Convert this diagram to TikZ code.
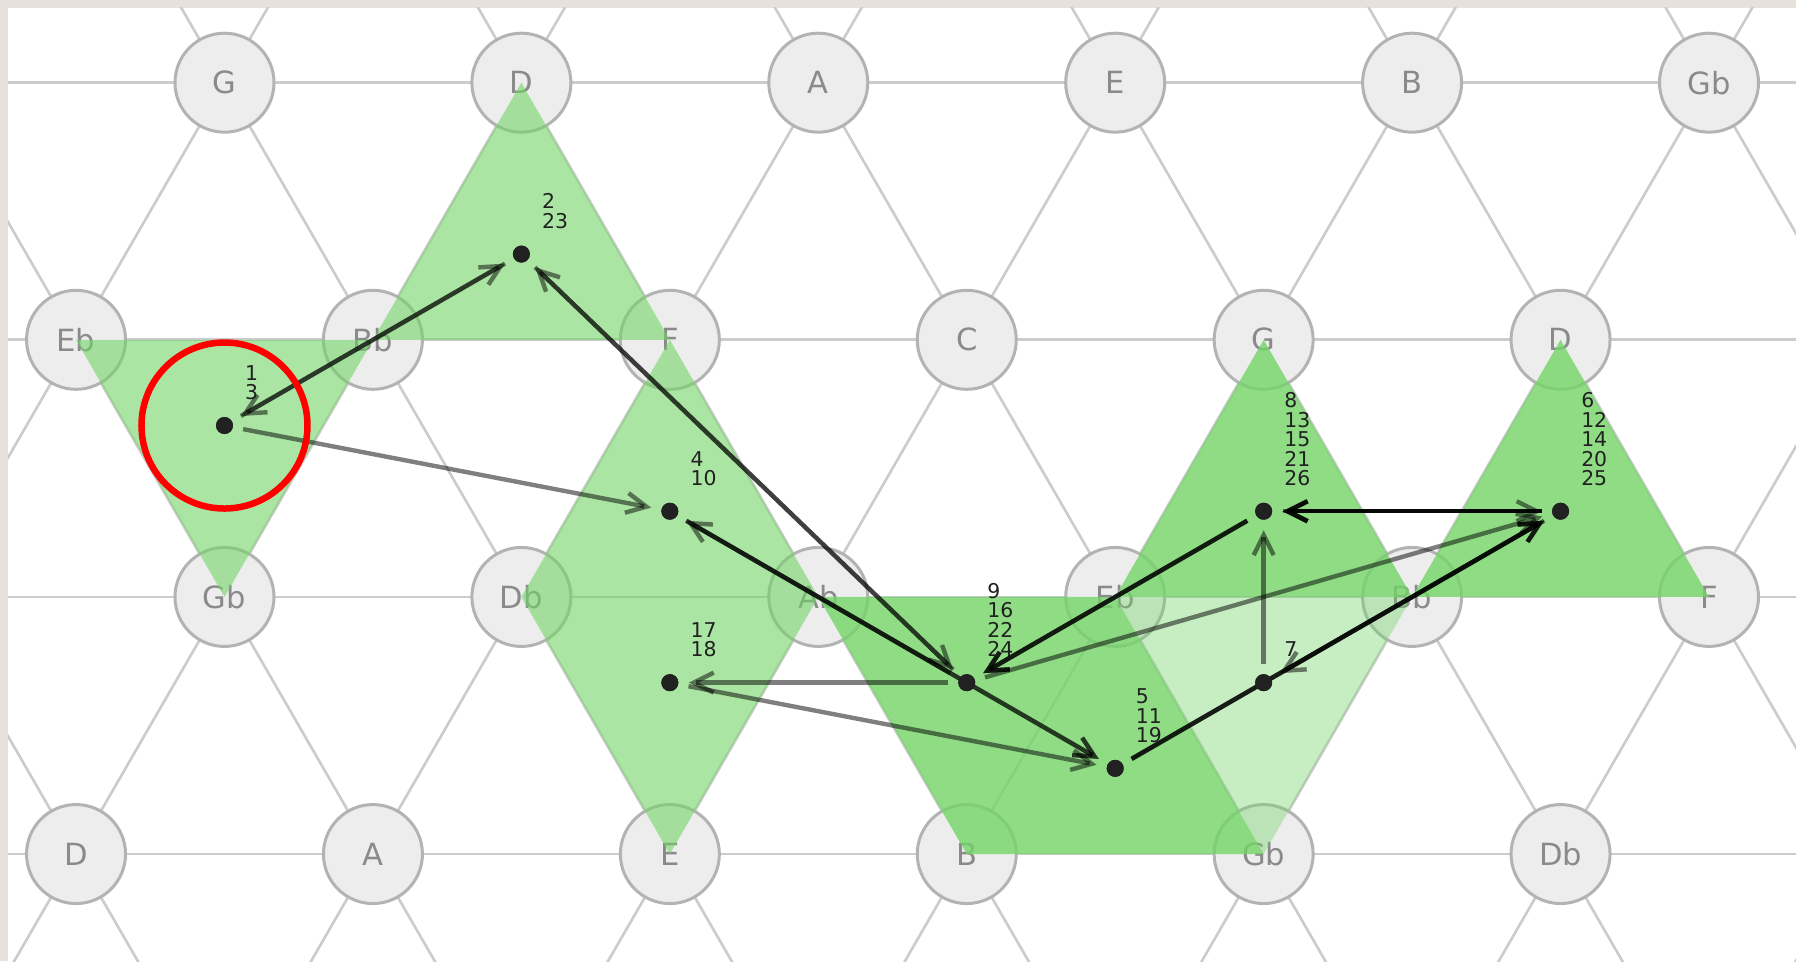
\documentclass[tikz,border=0pt]{standalone}
\usepackage{fontspec}
\setmainfont{DejaVu Sans}
\usetikzlibrary{arrows.meta}

\definecolor{frame}{HTML}{E6E2DB}
\definecolor{gridline}{HTML}{CCCCCC}
\definecolor{notefill}{HTML}{EDEDED}
\definecolor{noteline}{HTML}{B3B3B3}
\definecolor{notetext}{HTML}{8A8A8A}
\definecolor{chord}{HTML}{73D467}

\tikzset{
  note/.style={circle, fill=notefill, draw=noteline, line width=0.85pt, minimum size=0.99cm,
    inner sep=0pt, text=notetext, font=\fontsize{8.7pt}{10pt}\selectfont},
  dot/.style={circle, fill=black!87, inner sep=0pt, minimum size=0.17cm, outer sep=0.105cm},
  visits/.style={anchor=south west, inner sep=0pt, align=left, text depth=0pt,
    xshift=0.2cm, yshift=0.25cm, text=black!87, font=\fontsize{5.8pt}{5.55pt}\selectfont},
  move/.style={draw=black, draw opacity=0.5, line width=1.25pt,
    -{Straight Barb[length=2mm, width=2mm]}},
  once/.style={fill=chord, fill opacity=0.4},
  twice/.style={fill=chord, fill opacity=0.6},
  often/.style={fill=chord, fill opacity=0.8},
}

\begin{document}
\begin{tikzpicture}[x=2.969cm, y=2.5712cm]

\useasboundingbox (-0.2561,-0.4162) rectangle (5.7930,3.3217);
\fill[frame] (-0.2561,-0.4162) rectangle (5.7930,3.3217);
\fill[white] (-0.2292,-0.4162) rectangle (5.7930,3.2905);

%% grid lines
\begin{scope}[draw=gridline, line width=0.75pt]
\clip (-0.2292,-0.4162) rectangle (5.7930,3.2905);
\draw (-1,0) -- (7,0);
\draw (-1,1) -- (7,1);
\draw (-1,2) -- (7,2);
\draw (-1,3) -- (7,3);
\draw (-2.25,-0.5) -- (-0.25,3.5);
\draw (-1.25,-0.5) -- (0.75,3.5);
\draw (-0.25,-0.5) -- (1.75,3.5);
\draw (0.75,-0.5) -- (2.75,3.5);
\draw (1.75,-0.5) -- (3.75,3.5);
\draw (2.75,-0.5) -- (4.75,3.5);
\draw (3.75,-0.5) -- (5.75,3.5);
\draw (4.75,-0.5) -- (6.75,3.5);
\draw (5.75,-0.5) -- (7.75,3.5);
\draw (0.25,-0.5) -- (-1.75,3.5);
\draw (1.25,-0.5) -- (-0.75,3.5);
\draw (2.25,-0.5) -- (0.25,3.5);
\draw (3.25,-0.5) -- (1.25,3.5);
\draw (4.25,-0.5) -- (2.25,3.5);
\draw (5.25,-0.5) -- (3.25,3.5);
\draw (6.25,-0.5) -- (4.25,3.5);
\draw (7.25,-0.5) -- (5.25,3.5);
\draw (8.25,-0.5) -- (6.25,3.5);
\end{scope}

%% notes
\node[note] (G1)  at (0.5,3) {G};
\node[note] (D1)  at (1.5,3) {D};
\node[note] (A1)  at (2.5,3) {A};
\node[note] (E1)  at (3.5,3) {E};
\node[note] (B1)  at (4.5,3) {B};
\node[note] (Gb1) at (5.5,3) {Gb};
\node[note] (Eb2) at (0,2)   {Eb};
\node[note] (Bb2) at (1,2)   {Bb};
\node[note] (F2)  at (2,2)   {F};
\node[note] (C2)  at (3,2)   {C};
\node[note] (G2)  at (4,2)   {G};
\node[note] (D2)  at (5,2)   {D};
\node[note] (Gb3) at (0.5,1) {Gb};
\node[note] (Db3) at (1.5,1) {Db};
\node[note] (Ab3) at (2.5,1) {Ab};
\node[note] (Eb3) at (3.5,1) {Eb};
\node[note] (Bb3) at (4.5,1) {Bb};
\node[note] (F3)  at (5.5,1) {F};
\node[note] (D4)  at (0,0)   {D};
\node[note] (A4)  at (1,0)   {A};
\node[note] (E4)  at (2,0)   {E};
\node[note] (B4)  at (3,0)   {B};
\node[note] (Gb4) at (4,0)   {Gb};
\node[note] (Db4) at (5,0)   {Db};

%% chords
\fill[twice] (Eb2.center) -- (Bb2.center) -- (Gb3.center) -- cycle;  %% 1 3
\fill[twice] (D1.center) -- (Bb2.center) -- (F2.center) -- cycle;    %% 2 23
\fill[twice] (F2.center) -- (Db3.center) -- (Ab3.center) -- cycle;   %% 4 10
\fill[twice] (Db3.center) -- (Ab3.center) -- (E4.center) -- cycle;   %% 17 18
\fill[often] (Ab3.center) -- (Eb3.center) -- (B4.center) -- cycle;   %% 9 16 22 24
\fill[often] (Eb3.center) -- (B4.center) -- (Gb4.center) -- cycle;   %% 5 11 19
\fill[once]  (Eb3.center) -- (Bb3.center) -- (Gb4.center) -- cycle;  %% 7
\fill[often] (G2.center) -- (Eb3.center) -- (Bb3.center) -- cycle;   %% 8 13 15 21 26
\fill[often] (D2.center) -- (Bb3.center) -- (F3.center) -- cycle;    %% 6 12 14 20 25

%% chord centres
\node[dot] (c1) at (0.5,5/3) {};
\node[dot] (c2) at (1.5,7/3) {};
\node[dot] (c3) at (2,4/3)   {};
\node[dot] (c4) at (2,2/3)   {};
\node[dot] (c5) at (3,2/3)   {};
\node[dot] (c6) at (3.5,1/3) {};
\node[dot] (c7) at (4,2/3)   {};
\node[dot] (c8) at (4,4/3)   {};
\node[dot] (c9) at (5,4/3)   {};

%% moves
\draw[move] (c1) -- (c2);  %% 1-2
\draw[move] (c2) -- (c1);  %% 2-3
\draw[move] (c1) -- (c3);  %% 3-4
\draw[move] (c3) -- (c6);  %% 4-5
\draw[move] (c6) -- (c9);  %% 5-6
\draw[move] (c9) -- (c7);  %% 6-7
\draw[move] (c7) -- (c8);  %% 7-8
\draw[move] (c8) -- (c5);  %% 8-9
\draw[move] (c5) -- (c3);  %% 9-10
\draw[move] (c3) -- (c6);  %% 10-11
\draw[move] (c6) -- (c9);  %% 11-12
\draw[move] (c9) -- (c8);  %% 12-13
\draw[move] (c8) -- (c9);  %% 13-14
\draw[move] (c9) -- (c8);  %% 14-15
\draw[move] (c8) -- (c5);  %% 15-16
\draw[move] (c5) -- (c4);  %% 16-17
\draw[move] (c4) -- (c6);  %% 18-19
\draw[move] (c6) -- (c9);  %% 19-20
\draw[move] (c9) -- (c8);  %% 20-21
\draw[move] (c8) -- (c5);  %% 21-22
\draw[move] (c5) -- (c2);  %% 22-23
\draw[move] (c2) -- (c5);  %% 23-24
\draw[move] (c5) -- (c9);  %% 24-25
\draw[move] (c9) -- (c8);  %% 25-26

%% redraw centres on top
\node[dot] at (c1) {};
\node[dot] at (c2) {};
\node[dot] at (c3) {};
\node[dot] at (c4) {};
\node[dot] at (c5) {};
\node[dot] at (c6) {};
\node[dot] at (c7) {};
\node[dot] at (c8) {};
\node[dot] at (c9) {};

%% visit numbers
\node[visits] (v1) at (c1) {1\\3};
\node[visits] (v2) at (c2) {2\\23};
\node[visits] (v3) at (c3) {4\\10};
\node[visits] (v4) at (c4) {17\\18};
\node[visits] (v5) at (c5) {9\\16\\22\\24};
\node[visits] (v6) at (c6) {5\\11\\19};
\node[visits] (v7) at (c7) {7};
\node[visits] (v8) at (c8) {8\\13\\15\\21\\26};
\node[visits] (v9) at (c9) {6\\12\\14\\20\\25};

%% start
\draw[red, line width=0.065cm] (c1.center) circle (0.83cm);

\end{tikzpicture}
\end{document}
